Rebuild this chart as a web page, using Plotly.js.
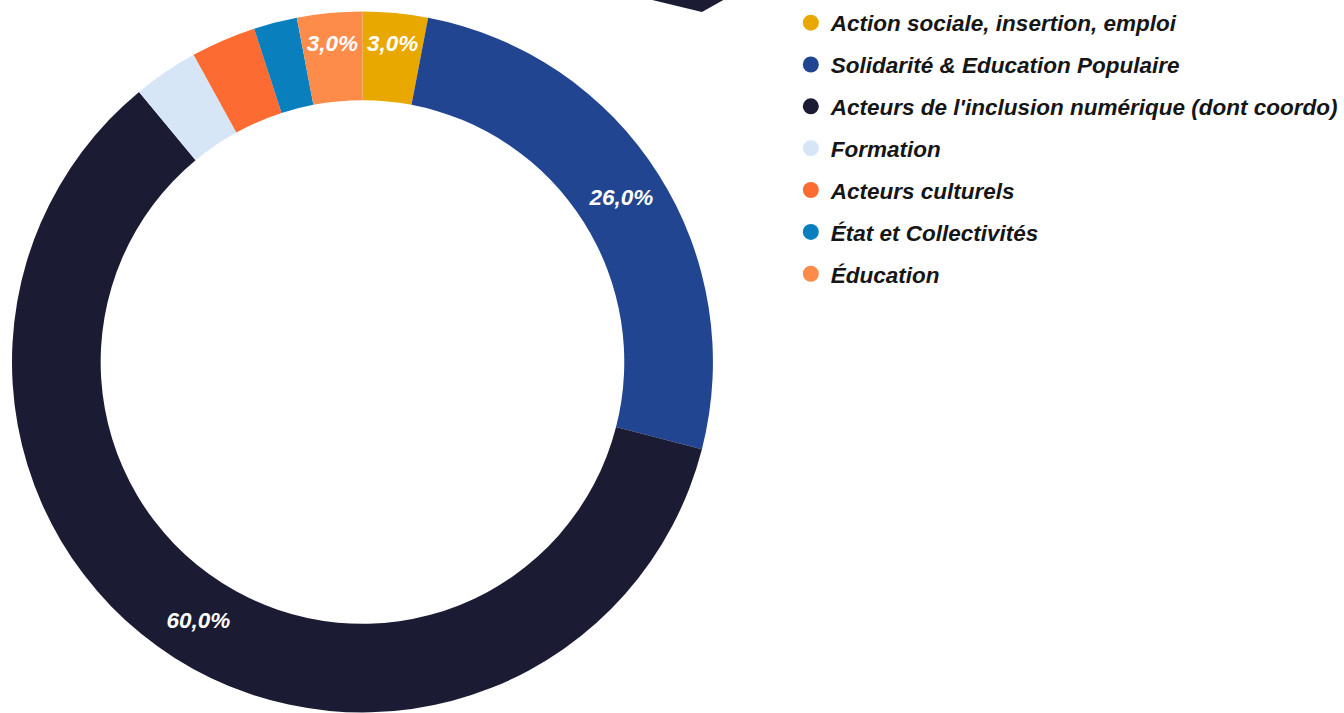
<!DOCTYPE html>
<html>
<head>
<meta charset="utf-8">
<script src="https://cdn.plot.ly/plotly-3.0.1.min.js"></script>
<style>html,body{margin:0;padding:0;background:#fff;}#chart{width:1344px;height:713px;}</style>
</head>
<body>
<div id="chart"></div>
<script>
var categories = [
  "Action sociale, insertion, emploi",
  "Solidarité & Education Populaire",
  "Acteurs de l'inclusion numérique (dont coordo)",
  "Formation",
  "Acteurs culturels",
  "État et Collectivités",
  "Éducation"
];
var shares = [3, 26, 60, 3, 3, 2, 3];
var sliceLabels = ["3,0%", "26,0%", "60,0%", "", "", "", "3,0%"];
var colors = ["#E8A800", "#224592", "#1B1B33", "#D6E6F6", "#FC6C32", "#0A7FBE", "#FD8B4A"];

var W = 1344, H = 713;
var fontFam = "Liberation Sans, Arial, sans-serif";

var traces = [{
  type: "pie",
  values: shares,
  labels: categories,
  text: sliceLabels,
  textinfo: "text",
  textposition: "inside",
  insidetextorientation: "horizontal",
  insidetextfont: {family: fontFam, size: 22.5, color: "#ffffff", weight: "bold", style: "italic"},
  marker: {colors: colors, line: {width: 0}},
  hole: 0.747,
  sort: false,
  direction: "clockwise",
  rotation: 0,
  showlegend: false,
  domain: {x: [12 / W, 714 / W], y: [0, 0.9846]},
  hoverinfo: "label+percent"
}];

categories.forEach(function (c, i) {
  traces.push({
    type: "scatter",
    mode: "markers",
    x: [null], y: [null],
    name: c,
    legendgroup: "g" + i,
    marker: {color: colors[i], size: 19, symbol: "circle"},
    hoverinfo: "skip"
  });
});

var layout = {
  width: W, height: H,
  margin: {l: 0, r: 0, t: 0, b: 0},
  paper_bgcolor: "#ffffff",
  plot_bgcolor: "#ffffff",
  separators: ", ",
  xaxis: {visible: false, domain: [0.6, 0.61]},
  yaxis: {visible: false, domain: [0.6, 0.61]},
  showlegend: true,
  legend: {
    x: 792 / W, y: 1 - 1.5 / H, xanchor: "left", yanchor: "top",
    font: {family: fontFam, size: 22.5, color: "#161616", weight: "bold", style: "italic"},
    tracegroupgap: 9.6,
    itemsizing: "trace",
    bgcolor: "rgba(0,0,0,0)"
  },
  shapes: [{
    type: "path", xref: "paper", yref: "paper",
    path: "M " + (645 / W) + "," + (1 + 2 / H) + " L " + (703 / W) + "," + (1 - 12 / H) + " L " + (728 / W) + "," + (1 + 2 / H) + " Z",
    fillcolor: "#1B1B33", line: {width: 0}, layer: "above"
  }]
};

Plotly.newPlot("chart", traces, layout, {displayModeBar: false, staticPlot: true});
</script>
</body>
</html>
